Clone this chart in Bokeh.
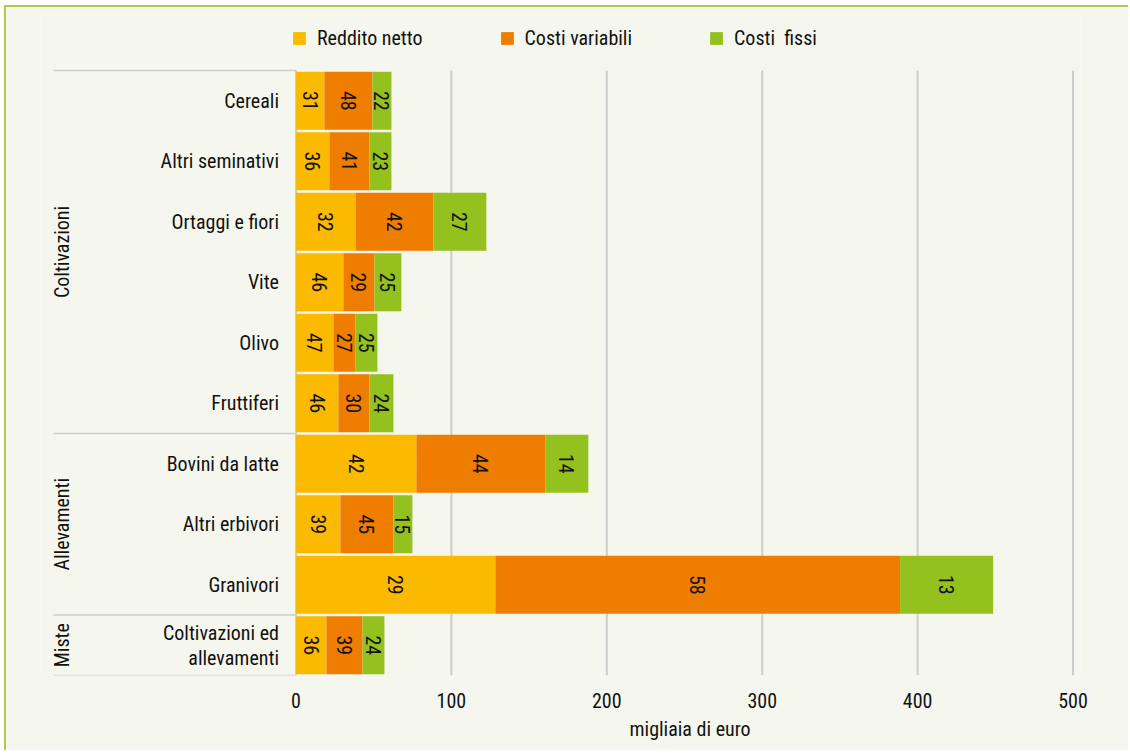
import math
from bokeh.plotting import figure
from bokeh.models import ColumnDataSource, Range1d, FixedTicker, Legend, LegendItem, Title
from bokeh.core.properties import value
from bokeh.embed import file_html
from bokeh.resources import INLINE

# ---------------- data ----------------
categories = ["Cereali", "Altri seminativi", "Ortaggi e fiori", "Vite", "Olivo", "Fruttiferi",
              "Bovini da latte", "Altri erbivori", "Granivori", "Coltivazioni ed\nallevamenti"]
groups = ["Coltivazioni"] * 6 + ["Allevamenti"] * 3 + ["Miste"]
series_names = ["Reddito netto", "Costi variabili", "Costi  fissi"]
reddito_netto = [18.3, 21.5, 38.3, 30.5, 24.1, 27.3, 77.5, 28.6, 128.3, 19.6]
costi_variabili = [30.9, 25.8, 50.1, 20.0, 14.2, 20.0, 82.9, 34.1, 260.4, 23.2]
costi_fissi = [12.2, 14.1, 34.1, 17.3, 14.1, 15.4, 27.7, 12.2, 59.9, 14.1]
pct_reddito = [31, 36, 32, 46, 47, 46, 42, 39, 29, 36]
pct_variabili = [48, 41, 42, 29, 27, 30, 44, 45, 58, 39]
pct_fissi = [22, 23, 27, 25, 25, 24, 14, 15, 13, 24]
x_ticks = [0, 100, 200, 300, 400, 500]
x_title = "migliaia di euro"

# ---------------- style ----------------
FONT_S = "Roboto Condensed, DejaVu Sans Condensed, Liberation Sans Narrow, Roboto"
FONT = value(FONT_S)
BG = "#F5F7EE"
COLORS = ["#FBBA00", "#EF7D00", "#95C11F"]
GRID = "#CDCDCD"
TXT = "#111111"
FS = "20px"

n = len(categories)
rows = list(range(n))

p = figure(width=1124, height=745, output_backend="svg", toolbar_location=None,
           x_range=Range1d(-164.4, 504.8), y_range=Range1d(9.5, -1.4256),
           y_axis_location=None,
           min_border_left=34, min_border_right=50, min_border_top=7, min_border_bottom=77)
p.styles = {"border-top": "2px solid #A9CB45", "border-left": "2px solid #A9CB45",
            "margin-left": "4px", "margin-top": "5px"}
p.background_fill_color = BG
p.border_fill_color = BG
p.outline_line_color = None
p.xgrid.visible = False
p.ygrid.visible = False

# x axis (tick labels only)
ax = p.xaxis[0]
ax.ticker = FixedTicker(ticks=x_ticks)
ax.axis_line_color = None
ax.major_tick_line_color = None
ax.minor_tick_line_color = None
ax.major_label_text_font = FONT_S
ax.major_label_text_font_size = FS
ax.major_label_text_color = TXT
ax.major_label_standoff = 11

# axis title, shifted to sit under the 0-500 span
p.add_layout(Title(text=x_title, align="left", offset=589, standoff=8,
                   text_font=FONT_S, text_font_size=FS, text_font_style="normal",
                   text_color=TXT), "below")

# grid lines from tick values (0 drawn as axis line)
gx = [t for t in x_ticks if t > 0]
p.segment(x0=gx, x1=gx, y0=[-0.5] * len(gx), y1=[n - 0.5] * len(gx), line_color=GRID, line_width=2)
p.segment(x0=[0], x1=[0], y0=[-0.5], y1=[n - 0.5], line_color=GRID, line_width=2)

# group separators
bounds = [-0.5]
for i in range(1, n):
    if groups[i] != groups[i - 1]:
        bounds.append(i - 0.5)
bounds.append(n - 0.5)
p.segment(x0=[-156.0] * len(bounds), x1=[0] * len(bounds), y0=bounds, y1=bounds,
          line_color=GRID, line_width=1.5)

# stacked bars
vals = [reddito_netto, costi_variabili, costi_fissi]
pcts = [pct_reddito, pct_variabili, pct_fissi]
left = [0.0] * n
renderers = []
for k in range(3):
    right = [left[i] + vals[k][i] for i in range(n)]
    src = ColumnDataSource(dict(y=rows, left=left, right=right,
                                mid=[(left[i] + right[i]) / 2 for i in range(n)],
                                lab=[str(v) for v in pcts[k]]))
    r = p.hbar(y="y", left="left", right="right", height=0.96, source=src,
               fill_color=COLORS[k], line_color=None)
    renderers.append(r)
    p.text(x="mid", y="y", text="lab", source=src, angle=-math.pi / 2,
           text_align="center", text_baseline="middle", text_font=FONT,
           text_font_size=FS, text_color=TXT)
    left = right

# category labels
p.text(x=[0] * n, y=rows, text=categories, x_offset=-17, text_align="right",
       text_baseline="middle", text_font=FONT, text_font_size=FS, text_color=TXT,
       text_line_height=1.05)

# group labels
gnames, gcent = [], []
for i in range(len(bounds) - 1):
    gnames.append(groups[int(bounds[i] + 0.5)])
    gcent.append((bounds[i] + bounds[i + 1]) / 2)
p.text(x=[0] * len(gnames), y=gcent, text=gnames, x_offset=-234, angle=math.pi / 2,
       text_align="center", text_baseline="middle", text_font=FONT,
       text_font_size=FS, text_color=TXT)

# legend
legend = Legend(items=[LegendItem(label=series_names[k], renderers=[renderers[k]]) for k in range(3)],
                orientation="horizontal", location=(251, 625), padding=0, margin=0,
                spacing=76, glyph_width=16, glyph_height=16, label_height=16,
                label_standoff=10, label_text_font=FONT_S, label_text_font_size=FS,
                label_text_color=TXT, background_fill_alpha=0, border_line_color=None)
p.add_layout(legend)

open("out.html", "w").write(file_html(p, INLINE))
